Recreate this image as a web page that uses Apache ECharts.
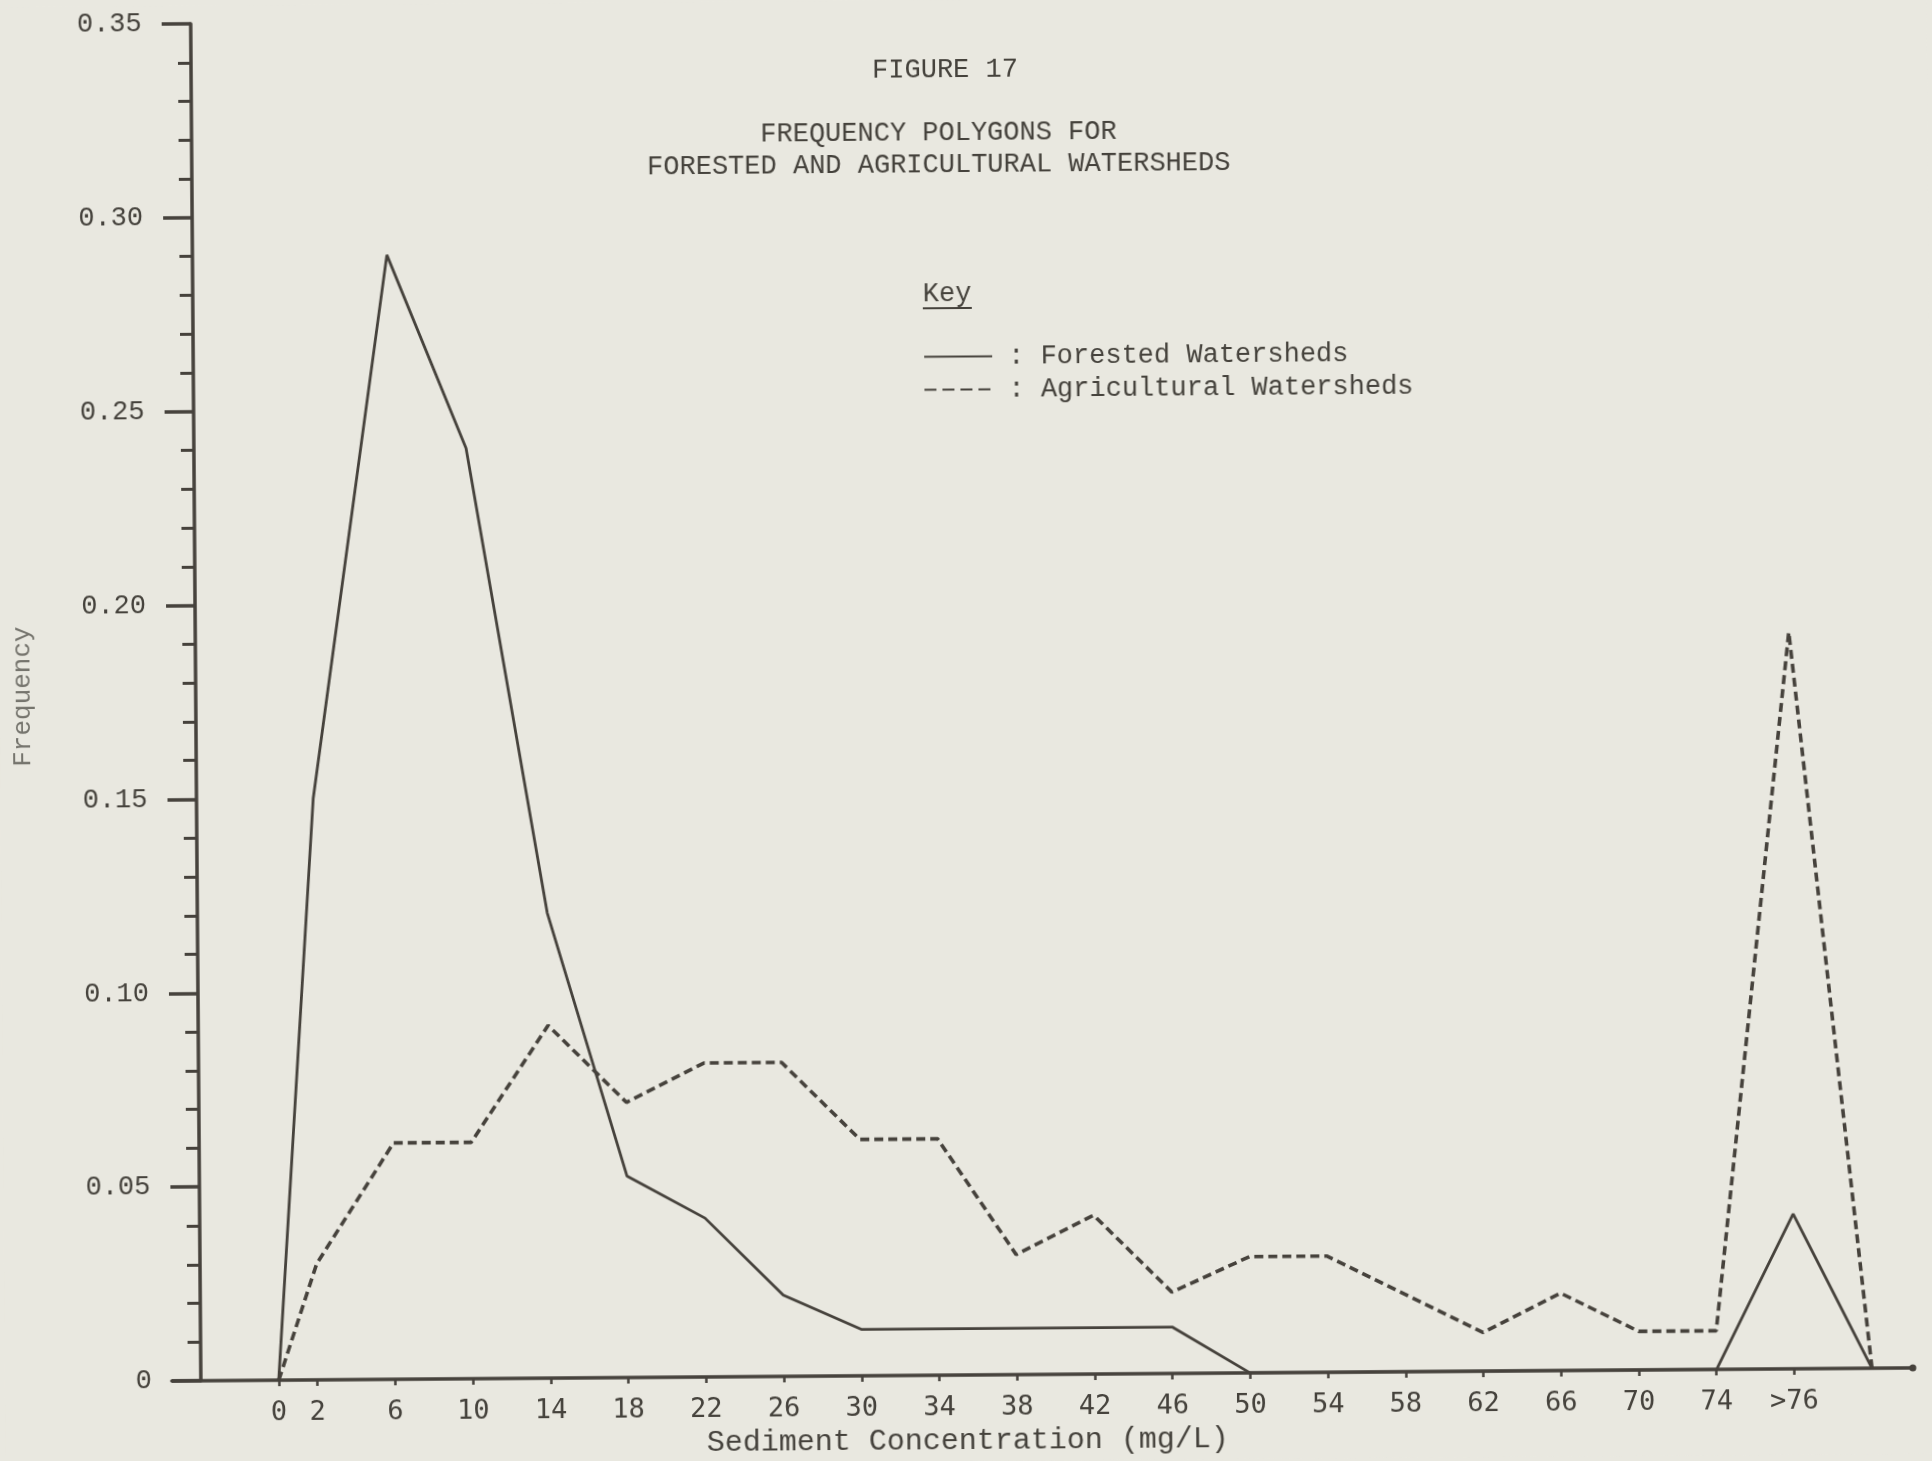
<!DOCTYPE html>
<html>
<head>
<meta charset="utf-8">
<title>Figure 17 - Frequency polygons</title>
<script src="https://cdn.jsdelivr.net/npm/echarts@6/dist/echarts.min.js"></script>
<style>
  html, body { margin: 0; padding: 0; background: #e9e8e0; overflow: hidden; }
  /* the scanned page sits a little crooked, so the whole chart is turned slightly */
  #chart { width: 1932px; height: 1461px; transform: rotate(-0.43deg); transform-origin: 50% 50%; }
</style>
</head>
<body>
<div id="chart"></div>
<script>
// sediment concentration class marks (mg/L); 78 is the ">76" class, 82 closes the polygon
const concentration = [0, 2, 6, 10, 14, 18, 22, 26, 30, 34, 38, 42, 46, 50, 54, 58, 62, 66, 70, 74, 78, 82];
const forested = [0, 0.15, 0.29, 0.24, 0.12, 0.052, 0.041, 0.021, 0.012, 0.012, 0.012, 0.012, 0.012,
  0, 0, 0, 0, 0, 0, 0, 0.04, 0];
const agricultural = [0, 0.03, 0.061, 0.061, 0.091, 0.071, 0.081, 0.081, 0.061, 0.061, 0.031, 0.041, 0.021,
  0.03, 0.03, 0.02, 0.01, 0.02, 0.01, 0.01, 0.19, 0];
const xTicks = [0, 2, 6, 10, 14, 18, 22, 26, 30, 34, 38, 42, 46, 50, 54, 58, 62, 66, 70, 74, 78];
const xTickText = { 78: ">76" };

const ink = "#46423c";
const textInk = "#45423c";
const mono = "Liberation Mono";

const chart = echarts.init(document.getElementById("chart"));

const toPairs = (vals) => concentration.map((x, i) => [x, vals[i]]);

chart.setOption({
  animation: false,
  backgroundColor: "#e9e8e0",
  title: [
    {
      text: "FIGURE 17",
      left: 945,
      top: 51,
      textAlign: "center",
      textStyle: { fontFamily: mono, fontSize: 27, fontWeight: "normal", color: textInk },
    },
    {
      text: "FREQUENCY POLYGONS FOR\nFORESTED AND AGRICULTURAL WATERSHEDS",
      left: 938,
      top: 112,
      textAlign: "center",
      textStyle: { fontFamily: mono, fontSize: 27, lineHeight: 32, fontWeight: "normal", color: textInk },
    },
  ],
  legend: {
    orient: "vertical",
    left: 926,
    top: 343,
    padding: 0,
    itemWidth: 68,
    itemHeight: 14,
    itemGap: 6,
    selectedMode: false,
    itemStyle: { opacity: 0 },
    lineStyle: { type: [12, 6] },
    formatter: (name) => ": " + name,
    textStyle: { fontFamily: mono, fontSize: 27, lineHeight: 27, color: textInk, padding: [0, 0, 0, 11] },
    data: [
      { name: "Forested Watersheds", lineStyle: { type: "solid" } },
      { name: "Agricultural Watersheds" },
    ],
  },
  graphic: [
    {
      type: "text",
      left: 926,
      top: 280,
      style: { text: "Key", font: "27px " + mono, fill: textInk },
    },
    {
      type: "line",
      shape: { x1: 926, y1: 308, x2: 975, y2: 308 },
      style: { stroke: textInk, lineWidth: 2 },
    },
  ],
  grid: { left: 167, right: 24, top: 18, bottom: 85 },
  xAxis: {
    type: "value",
    min: -5.5,
    max: 84.1,
    name: "Sediment Concentration (mg/L)",
    nameLocation: "middle",
    nameGap: 50,
    nameTextStyle: { fontFamily: mono, fontSize: 30, color: textInk, padding: [0, 150, 0, 0] },
    splitLine: { show: false },
    axisLine: {
      lineStyle: { color: ink, width: 3.5 },
      symbol: ["none", "circle"],
      symbolSize: [7, 7],
    },
    axisTick: { customValues: xTicks, length: 6, lineStyle: { color: ink, width: 2.5 } },
    axisLabel: {
      customValues: xTicks,
      margin: 19,
      fontFamily: "DejaVu Sans Mono",
      fontSize: 27,
      color: textInk,
      formatter: (v) => xTickText[v] || String(v),
    },
  },
  yAxis: {
    type: "value",
    min: 0,
    max: 0.35,
    interval: 0.05,
    offset: -29,
    name: "Frequency",
    nameLocation: "middle",
    nameRotate: 90,
    nameGap: 160,
    nameTextStyle: { fontFamily: mono, fontSize: 26, color: "#75746d", padding: [0, 0, 0, 14] },
    splitLine: { show: false },
    axisLine: { onZero: false, lineStyle: { color: ink, width: 3.5 } },
    axisTick: { length: 29, lineStyle: { color: ink, width: 3.5 } },
    minorTick: { show: true, splitNumber: 5, length: 13, lineStyle: { color: ink, width: 3 } },
    axisLabel: {
      margin: 49,
      fontFamily: mono,
      fontSize: 27,
      color: textInk,
      formatter: (v) => (v === 0 ? "0" : v.toFixed(2)),
    },
  },
  series: [
    {
      name: "Agricultural Watersheds",
      type: "line",
      symbol: "none",
      data: toPairs(agricultural),
      lineStyle: { color: ink, width: 3.6, type: [9, 5] },
      itemStyle: { color: ink },
    },
    {
      name: "Forested Watersheds",
      type: "line",
      symbol: "none",
      data: toPairs(forested),
      lineStyle: { color: ink, width: 2.8 },
      itemStyle: { color: ink },
    },
  ],
});
</script>
</body>
</html>
